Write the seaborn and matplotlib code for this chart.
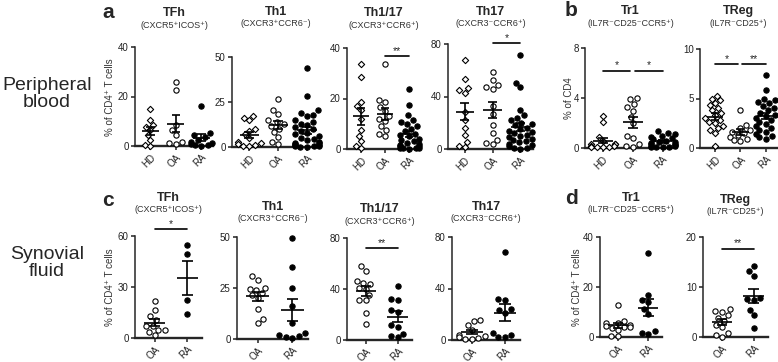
import warnings
warnings.filterwarnings('ignore')
import numpy as np
import pandas as pd
import matplotlib
matplotlib.use('Agg')
import matplotlib.pyplot as plt
import seaborn as sns

sns.set_style('ticks')
plt.rcParams['font.family'] = ['Liberation Sans', 'DejaVu Sans']

# ---------------- data ----------------
groups_pb = ['HD', 'OA', 'RA']
groups_sf = ['OA', 'RA']

# Peripheral blood (a, b)
pb_tfh_hd = [14.8, 10.5, 8.5, 7.8, 6.5, 4.5, 2.5, 0.5, 0.2]
pb_tfh_oa = [25.9, 22.8, 8.5, 6.4, 4.4, 1.7, 1.1, 1.0]
pb_tfh_ra = [16.1, 5.2, 4.5, 3.5, 2.5, 1.8, 1.2, 0.8, 0.5, 0.3, 0.2]

pb_th1_hd = [17.5, 16.0, 15.0, 10.0, 9.0, 7.0, 5.0, 3.0, 2.0, 1.5, 1.0, 0.5, 0.3]
pb_th1_oa = [26.7, 20.7, 18.5, 14.8, 13.9, 13.0, 11.5, 10.2, 8.3, 5.6, 2.8, 1.5]
pb_th1_ra = [43.9, 28.3, 20.4, 19, 18, 17, 15, 14, 13, 12, 11, 10, 9, 8, 7, 6, 5,
             4.5, 4, 3, 2.5, 2, 1.5, 1, 1, 0.5, 0.5, 0.3, 0.2, 0.1]

pb_th117_hd = [33.8, 28.6, 18.7, 17.0, 15.5, 12.0, 7.5, 5.0, 3.0, 1.0, 0.5]
pb_th117_oa = [33.8, 19.5, 18.5, 16.5, 15.0, 13.0, 12.0, 11.0, 9.0, 7.5, 6.0, 5.0]
pb_th117_ra = [23.6, 17.4, 13.4, 11.5, 10.5, 10, 9, 8, 7, 6, 5.5, 5, 4, 3.5, 3,
               2.5, 2, 1.5, 1, 1, 0.5, 0.5, 0.3, 0.2, 0.1]

pb_th17_hd = [68, 53, 46.4, 44.6, 43, 28.5, 22, 15.8, 10.7, 5.6, 2.5, 1.8]
pb_th17_oa = [59, 52.7, 49, 47.6, 46, 32.4, 27, 18.3, 12, 6.9, 4.3, 3.5]
pb_th17_ra = [71.8, 50.2, 46.9, 30, 26, 24, 22, 20, 19, 18, 16, 15, 14, 13, 12, 11,
              10, 9, 8, 7, 6, 5, 4, 3, 2, 1, 0.5, 0.2]

pb_tr1_hd = [2.6, 2.1, 0.9, 0.6, 0.3, 0.3, 0.3, 0.2, 0.2, 0.1, 0.1, 0.05, 0.05]
pb_tr1_oa = [4.0, 3.9, 3.5, 3.3, 3.0, 2.5, 2.0, 1.0, 0.8, 0.3, 0.15, 0.1]
pb_tr1_ra = [1.4, 1.2, 1.1, 1.0, 0.9, 0.8, 0.7, 0.6, 0.5, 0.45, 0.4, 0.35, 0.3,
             0.25, 0.2, 0.15, 0.1, 0.1, 0.05, 0.05]

pb_treg_hd = [5.3, 5.0, 4.8, 4.5, 4.3, 4.0, 3.8, 3.5, 3.3, 3.0, 2.8, 2.6, 2.5,
              2.2, 2.0, 1.8, 1.5, 0.2]
pb_treg_oa = [3.8, 2.3, 2.0, 1.8, 1.6, 1.5, 1.3, 1.1, 0.9, 0.8, 0.7]
pb_treg_ra = [7.4, 5.9, 4.9, 4.8, 4.6, 4.5, 4.2, 4.0, 3.8, 3.5, 3.3, 3.2, 3.0,
              2.8, 2.6, 2.4, 2.2, 2.0, 1.8, 1.6, 1.4, 1.2, 1.1, 0.9]

# Synovial fluid (c, d)
sf_tfh_oa = [21.8, 16.7, 12.7, 10.4, 7.0, 7.0, 5.0, 4.8, 3.5, 1.6]
sf_tfh_ra = [55.0, 49.6, 22.5, 13.9]

sf_th1_oa = [30.7, 29.1, 25.2, 24.7, 23.9, 22.5, 21.4, 20.1, 14.5, 10.0, 8.0]
sf_th1_ra = [49.7, 35.3, 25.0, 16.0, 8.0, 2.9, 1.8, 1.3, 1.0, 0.6]

sf_th117_oa = [58, 54.5, 46, 45, 44, 41, 40, 35.5, 31.5, 31, 21, 12.3]
sf_th117_ra = [42.5, 32, 31, 23.6, 22.3, 11.8, 10, 4.7, 3.1, 2.1]

sf_th17_oa = [15.5, 14.5, 12, 8, 4, 3, 2, 1.5, 1, 0.5]
sf_th17_ra = [68.4, 31.5, 31, 23.7, 23.2, 21.2, 5.7, 3.9, 2.6, 2.1]

sf_tr1_oa = [12.8, 6.6, 5.8, 5.5, 4.9, 4.5, 4.2, 4.0, 3.6, 2.9, 0.5, 0.3]
sf_tr1_ra = [33.6, 16.8, 14.8, 14.2, 11.3, 9.3, 2.3, 1.6, 1.3]

sf_treg_oa = [5.6, 5.3, 5.1, 4.4, 3.8, 3.3, 2.5, 2.1, 0.8, 0.5, 0.1]
sf_treg_ra = [14.2, 13.2, 12.3, 7.9, 7.7, 7.5, 5.4, 4.4, 1.8]

titles = ['TFh', 'Th1', 'Th1/17', 'Th17', 'Tr1', 'TReg']
subtitles = ['(CXCR5\u207aICOS\u207a)', '(CXCR3\u207aCCR6\u207b)', '(CXCR3\u207aCCR6\u207a)',
             '(CXCR3\u207bCCR6\u207a)', '(IL7R\u207bCD25\u207bCCR5\u207a)', '(IL7R\u207bCD25\u207a)']

pb_yticks = [[0, 20, 40], [0, 25, 50], [0, 20, 40], [0, 40, 80], [0, 4, 8], [0, 5, 10]]
sf_yticks = [[0, 30, 60], [0, 25, 50], [0, 40, 80], [0, 40, 80], [0, 20, 40], [0, 10, 20]]

# significance: (x_from, x_to, y, label)
pb_sigs = [[], [], [(1, 2, 36.8, '**')], [(1, 2, 80.8, '*')],
           [(0, 0.92, 6.2, '*'), (1.08, 2, 6.2, '*')],
           [(0, 0.92, 8.5, '*'), (1.08, 2, 8.5, '**')]]
sf_sigs = [[(0, 1, 64, '*')], [], [(0, 1, 72, '**')], [], [], [(0, 1, 17.7, '**')]]

# ---------------- layout ----------------
W, H = 778, 362
fig = plt.figure(figsize=(W / 100, H / 100), dpi=100)


def rect(x0, x1, ytop, ybot):
    return [x0 / W, 1 - ybot / H, (x1 - x0) / W, (ybot - ytop) / H]


pb_rects = [(135, 213, 47, 146), (232, 320, 57, 147), (347, 420, 48, 149),
            (448, 533, 44, 149), (585, 676, 48, 148), (700, 777, 49, 148)]
sf_rects = [(135, 202, 236, 338), (237, 308, 237, 339), (347, 412, 238, 340),
            (452, 520, 237, 340), (600, 662, 237, 337), (703, 768, 237, 337)]
pb_title_y = [13, 12, 13, 12, 11, 11]
sf_title_y = [198, 207, 209, 207, 198, 200]

STYLE = {'HD': dict(marker='D', color='white', size=3.2),
         'OA': dict(marker='o', color='white', size=3.8),
         'RA': dict(marker='o', color='black', size=3.8)}


def draw(ax, groups, vals, yticks, sigs):
    rows = []
    for g, v in zip(groups, vals):
        rows += [(g, x) for x in v]
    df = pd.DataFrame(rows, columns=['group', 'value'])
    for g in groups:
        st = STYLE[g]
        sns.swarmplot(data=df[df.group == g], x='group', y='value', order=groups,
                      ax=ax, size=st['size'], marker=st['marker'], color=st['color'],
                      edgecolor='black', linewidth=0.8, zorder=3)
    stats = df.groupby('group')['value'].agg(['mean', 'sem'])
    for i, g in enumerate(groups):
        m, s = stats.loc[g, 'mean'], stats.loc[g, 'sem']
        ax.hlines(m, i - 0.33, i + 0.33, color='black', lw=1.2, zorder=5)
        ax.hlines([m - s, m + s], i - 0.17, i + 0.17, color='black', lw=1.2, zorder=5)
        ax.vlines(i, m - s, m + s, color='black', lw=1.2, zorder=5)
    for c in ax.collections:
        c.set_clip_on(False)
    ax.set_ylim(0, yticks[-1])
    ax.set_yticks(yticks)
    ax.set_xlim(-0.6, len(groups) - 1 + 0.45)
    ax.set_xlabel('')
    ax.set_ylabel('')
    sns.despine(ax=ax)
    ax.spines['left'].set_linewidth(1.1)
    ax.spines['bottom'].set_linewidth(1.7)
    ax.tick_params(axis='both', direction='out', length=3, width=1.1, labelsize=7,
                   pad=1.5, colors='#222222')
    plt.setp(ax.get_xticklabels(), rotation=45, ha='right', rotation_mode='anchor')
    for x1, x2, y, lab in sigs:
        ax.plot([x1, x2], [y, y], color='black', lw=1.2, clip_on=False)
        ax.text((x1 + x2) / 2, y, lab, ha='center', va='bottom', fontsize=7.5)


pb_vals = [[pb_tfh_hd, pb_tfh_oa, pb_tfh_ra], [pb_th1_hd, pb_th1_oa, pb_th1_ra],
           [pb_th117_hd, pb_th117_oa, pb_th117_ra], [pb_th17_hd, pb_th17_oa, pb_th17_ra],
           [pb_tr1_hd, pb_tr1_oa, pb_tr1_ra], [pb_treg_hd, pb_treg_oa, pb_treg_ra]]
sf_vals = [[sf_tfh_oa, sf_tfh_ra], [sf_th1_oa, sf_th1_ra], [sf_th117_oa, sf_th117_ra],
           [sf_th17_oa, sf_th17_ra], [sf_tr1_oa, sf_tr1_ra], [sf_treg_oa, sf_treg_ra]]


def fx(px):
    return px / W


def fy(py):
    return 1 - py / H


for rects, vals, yt, sg, groups, tys in [
        (pb_rects, pb_vals, pb_yticks, pb_sigs, groups_pb, pb_title_y),
        (sf_rects, sf_vals, sf_yticks, sf_sigs, groups_sf, sf_title_y)]:
    for i in range(6):
        x0, x1, yt0, yb0 = rects[i]
        ax = fig.add_axes(rect(*rects[i]))
        draw(ax, groups, vals[i], yt[i], sg[i])
        cx = (x0 + x1) / 2
        fig.text(fx(cx), fy(tys[i]), titles[i], ha='center', va='center',
                 fontsize=9, fontweight='bold')
        fig.text(fx(cx), fy(tys[i] + 12), subtitles[i], ha='center', va='center',
                 fontsize=6.5, color='#333333')

# y labels
fig.text(fx(110), fy(97), '% of CD4\u207a T cells', rotation=90, ha='center', va='center',
         fontsize=7, color='#333333')
fig.text(fx(569), fy(98), '% of CD4', rotation=90, ha='center', va='center',
         fontsize=7, color='#333333')
fig.text(fx(110), fy(287), '% of CD4\u207a T cells', rotation=90, ha='center', va='center',
         fontsize=7, color='#333333')
fig.text(fx(577), fy(287), '% of CD4\u207a T cells', rotation=90, ha='center', va='center',
         fontsize=7, color='#333333')

# panel letters
for lab, x, y in [('a', 108, 12), ('b', 571, 11), ('c', 108, 200), ('d', 571, 198)]:
    fig.text(fx(x), fy(y), lab, ha='center', va='center', fontsize=15, fontweight='bold')

# row labels
fig.text(fx(47), fy(94), 'Peripheral\nblood', ha='center', va='center', fontsize=14,
         linespacing=1.05)
fig.text(fx(47), fy(263), 'Synovial\nfluid', ha='center', va='center', fontsize=14,
         linespacing=1.05)

fig.savefig('out.png', dpi=100)
